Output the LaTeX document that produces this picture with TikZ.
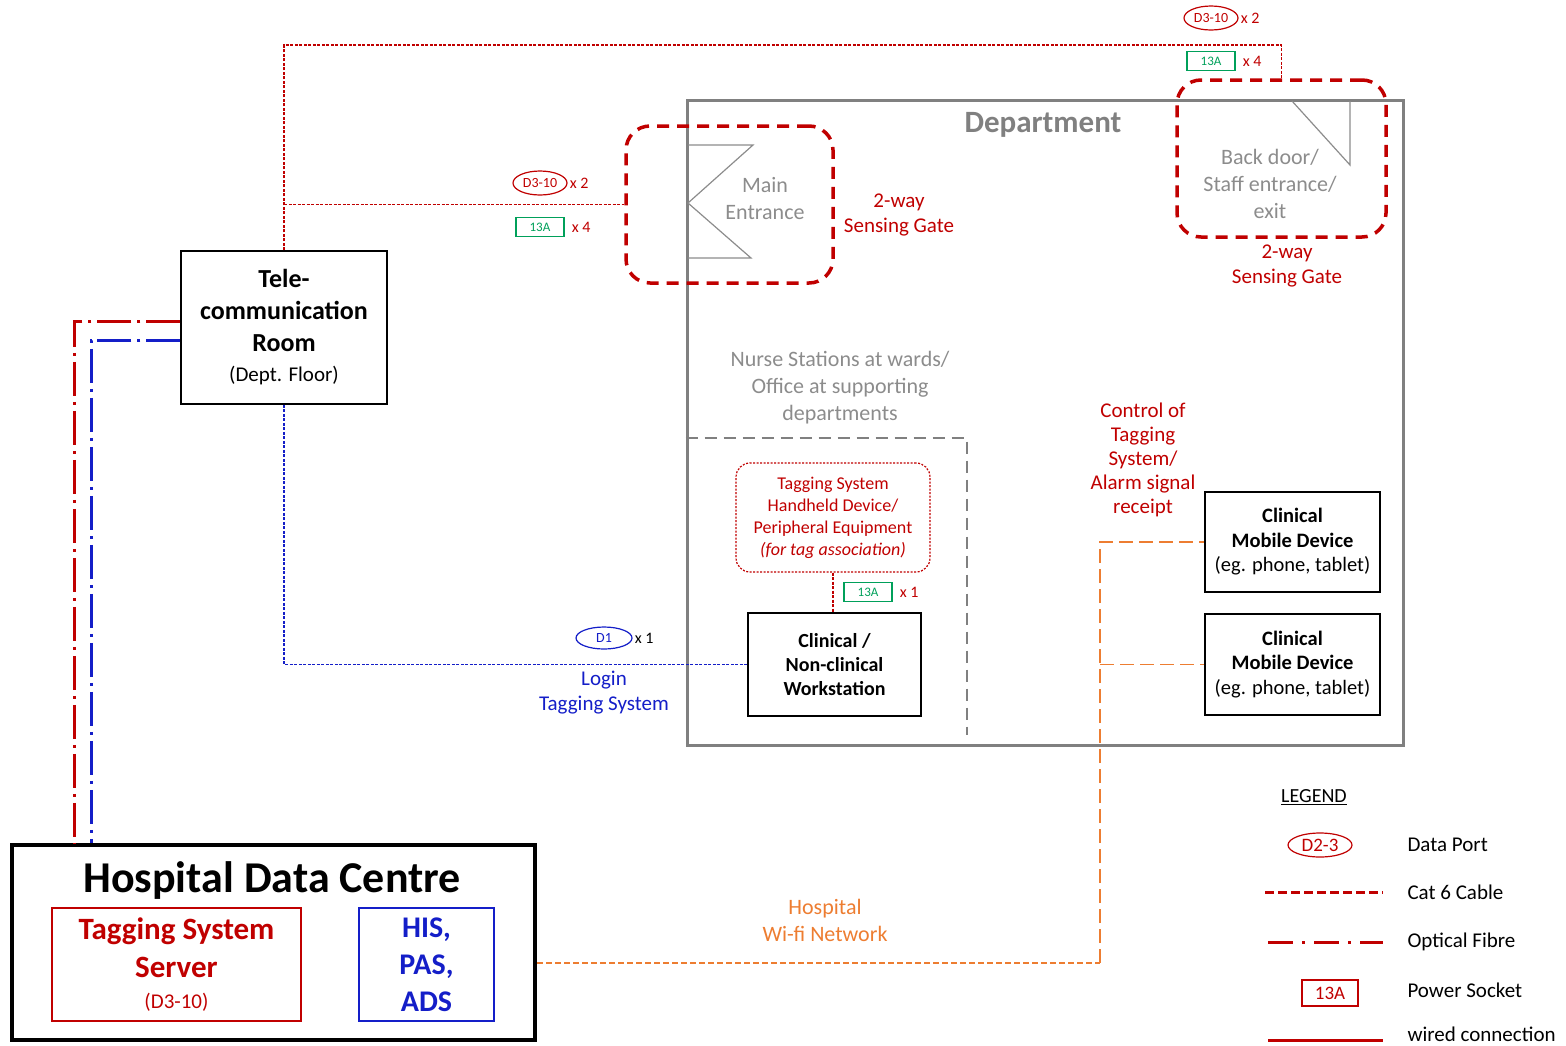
\documentclass[tikz,border=0pt]{standalone}
\usepackage{fontspec}
\setmainfont{Carlito}
\usetikzlibrary{positioning,shapes.geometric}

\definecolor{gatered}{RGB}{192,0,0}
\definecolor{sockgreen}{RGB}{0,160,90}
\definecolor{netblue}{RGB}{20,30,200}
\definecolor{wifiorange}{RGB}{237,125,49}
\definecolor{deptgray}{RGB}{128,128,128}
\definecolor{softgray}{RGB}{140,140,140}

\newcommand{\fsz}[2]{\fontsize{#1}{#2}\selectfont}

\tikzset{
	box/.style={draw,line width=1.5pt,align=center,inner sep=0pt},
	gate/.style={draw=gatered,line width=3.5pt,dash pattern=on 12pt off 8pt,rounded corners=24pt},
	cat6/.style={gatered,line width=1.1pt,dash pattern=on 3pt off 1.5pt},
	fibre/.style={line width=3pt,dash pattern=on 34pt off 6pt on 3pt off 6pt},
	lan/.style={netblue,line width=1.2pt,dash pattern=on 3pt off 1.5pt},
	wifi/.style={wifiorange,line width=1.6pt,dash pattern=on 14pt off 6pt},
	port/.style={ellipse,draw,line width=1.2pt,inner sep=0pt,minimum width=54pt,minimum height=24pt,font=\fsz{14}{16}},
	socket/.style={draw=sockgreen,text=sockgreen,line width=1.2pt,minimum width=48pt,minimum height=19pt,inner sep=0pt,font=\fsz{13}{15}},
	qty/.style={font=\fsz{16}{18},inner sep=1pt},
	note/.style={align=center,inner sep=0pt},
	legendtxt/.style={anchor=west,font=\fsz{21}{24}},
}

\begin{document}
\begin{tikzpicture}[x=1pt,y=-1pt]
	\useasboundingbox (0,0) rectangle (1566,1045);

	\node[draw=deptgray,line width=3pt,minimum width=716pt,minimum height=645pt] (dept) at (1045,422.5) {};
	\node[text=deptgray,font=\bfseries\fsz{31}{34}] (depttitle) at (1043,125) {Department};

	\node[gate,minimum width=207pt,minimum height=157pt] (maingate) at (729.5,204.5) {};
	\node[gate,minimum width=209pt,minimum height=157pt] (backgate) at (1281.5,158.5) {};
	\draw[softgray,line width=1.2pt] (688,145) -- (753,145) -- (688,203) -- (751,258) -- (688,258);
	\draw[softgray,line width=1.2pt] (1292,101) -- (1350,165) -- (1350,101);
	\node[note,text=softgray,font=\fsz{22}{27}] (maintxt) at (765,199) {Main\\Entrance};
	\node[note,text=softgray,font=\fsz{22}{27}] (backtxt) at (1270,184) {Back door/\\Staff entrance/\\exit};
	\node[note,text=gatered,font=\fsz{21}{25}] (maingatetxt) at (899,215) {2-way\\Sensing Gate};
	\node[note,text=gatered,font=\fsz{21}{25}] (backgatetxt) at (1287,266) {2-way\\Sensing Gate};

	\node[box,minimum width=206pt,minimum height=153pt,font=\bfseries\fsz{26}{32}] (telecom) at (284,327.5)
		{Tele-\\communication\\Room\\[-2pt]\mdseries\fsz{21}{26}(Dept. Floor)};

	\coordinate (toprun) at (1281.5,45);
	\draw[cat6] (telecom.north) |- (toprun) -- (backgate.north);
	\draw[cat6] (telecom.north |- maingate.west) -- (maingate.west);
	\node[port,draw=gatered,text=gatered] (portback) at (1211,18) {D3-10};
	\node[qty,text=gatered,right=1pt of portback] (portbackn) {x 2};
	\node[socket] (sockback) at (1211,61) {13A};
	\node[qty,text=gatered,right=6pt of sockback] (sockbackn) {x 4};
	\node[port,draw=gatered,text=gatered] (portmain) at (540,183) {D3-10};
	\node[qty,text=gatered,right=1pt of portmain] (portmainn) {x 2};
	\node[socket] (sockmain) at (540,227) {13A};
	\node[qty,text=gatered,right=6pt of sockmain] (sockmainn) {x 4};

	\node[draw,line width=4pt,minimum width=523pt,minimum height=195pt] (hdc) at (273.5,942.5) {};
	\node[font=\bfseries\fsz{44}{48},inner sep=0pt] (hdctitle) at (272,881) {Hospital Data Centre};
	\node[box,draw=gatered,text=gatered,minimum width=249pt,minimum height=113pt,font=\bfseries\fsz{31}{38}] (tss) at (176.5,964.5)
		{Tagging System\\Server\\[-7pt]\mdseries\fsz{21}{26}(D3-10)};
	\node[box,draw=netblue,text=netblue,minimum width=135pt,minimum height=113pt,font=\bfseries\fsz{30}{37}] (his) at (426.5,964.5)
		{HIS,\\PAS,\\ADS};

	\coordinate (fr) at (74,321);
	\coordinate (fb) at (91,340);
	\draw[fibre,gatered] (fr -| telecom.west) -- (fr) -- (fr |- hdc.north);
	\draw[fibre,netblue] (fb -| telecom.west) -- (fb) -- (fb |- hdc.north);

	\node[note,text=softgray,font=\fsz{22}{27}] (nursetxt) at (840,388) {Nurse Stations at wards/\\Office at supporting\\departments};
	\coordinate (ns) at (967,438);
	\draw[deptgray,line width=2.5pt,dash pattern=on 12pt off 7pt] (dept.west |- ns) -- (ns) -- (ns |- 0,735);

	\node[draw=gatered,line width=1.2pt,dash pattern=on 2pt off 1.5pt,rounded corners=14pt,minimum width=194pt,minimum height=109pt,
		note,text=gatered,font=\fsz{18}{22}] (handheld) at (833,517.5)
		{Tagging System\\Handheld Device/\\Peripheral Equipment\\\textit{(for tag association)}};
	\node[box,minimum width=173pt,minimum height=103pt,font=\bfseries\fsz{20}{24}] (ws) at (834.5,664.5)
		{Clinical /\\Non-clinical\\Workstation};
	\draw[cat6] (handheld.south) -- (handheld.south |- ws.north);
	\node[socket] (sockws) at (868,592) {13A};
	\node[qty,text=gatered,right=6pt of sockws] (sockwsn) {x 1};

	\draw[lan] (telecom.south) |- (ws.west);
	\node[port,draw=netblue,text=netblue,minimum width=56pt,minimum height=22pt] (portws) at (604,638) {D1};
	\node[qty,right=1pt of portws] (portwsn) {x 1};
	\node[note,text=netblue,font=\fsz{21}{25}] (logintxt) at (604,693) {Login\\Tagging System};

	\node[box,minimum width=175pt,minimum height=100pt,font=\fsz{20.5}{24.5}] (mob1) at (1292.5,542)
		{\textbf{Clinical}\\\textbf{Mobile Device}\\(eg. phone, tablet)};
	\node[box,minimum width=175pt,minimum height=101pt,font=\fsz{20.5}{24.5}] (mob2) at (1292.5,664.5)
		{\textbf{Clinical}\\\textbf{Mobile Device}\\(eg. phone, tablet)};
	\node[note,text=gatered,font=\fsz{21}{24}] (controltxt) at (1143,460) {Control of\\Tagging\\System/\\Alarm signal\\receipt};

	\coordinate (wifi) at (1100,963);
	\draw[wifi,line width=1.2pt,dash pattern=on 6pt off 3pt] (hdc.east |- wifi) -- (wifi);
	\draw[wifi] (wifi) |- (mob1.west);
	\draw[wifi] (wifi |- mob2.west) -- (mob2.west);
	\node[note,text=wifiorange,font=\fsz{22}{27}] (wifitxt) at (825,920) {Hospital\\Wi-fi Network};

	\node[font=\fsz{20}{22}] (legend) at (1314,797) {\underline{LEGEND}};
	\node[port,draw=gatered,text=gatered,minimum width=64pt,minimum height=24pt,font=\fsz{19}{20}] (lgport) at (1320,845) {D2-3};
	\node[legendtxt] (lgporttxt) at (1404,845) {Data Port};
	\coordinate (lgcat) at (1265,892);
	\draw[gatered,line width=3pt,dash pattern=on 9pt off 4pt] (lgcat) -- ++(118,0) coordinate (lgcatend);
	\node[legendtxt] (lgcattxt) at (1404,892) {Cat 6 Cable};
	\coordinate (lgfib) at (1268,942);
	\draw[gatered,line width=3pt,dash pattern=on 25pt off 9pt on 3pt off 9pt] (lgfib) -- ++(115,0) coordinate (lgfibend);
	\node[legendtxt] (lgfibtxt) at (1404,942) {Optical Fibre};
	\node[draw=gatered,text=gatered,line width=1.2pt,minimum width=56pt,minimum height=26pt,inner sep=0pt,font=\fsz{19}{20}] (lgsock) at (1330,993) {13A};
	\node[legendtxt] (lgsocktxt) at (1404,990) {Power Socket};
	\coordinate (lgwire) at (1268,1040);
	\draw[gatered,line width=3pt] (lgwire) -- ++(115,0) coordinate (lgwireend);
	\node[legendtxt] (lgwiretxt) at (1404,1034) {wired connection};
\end{tikzpicture}
\end{document}
